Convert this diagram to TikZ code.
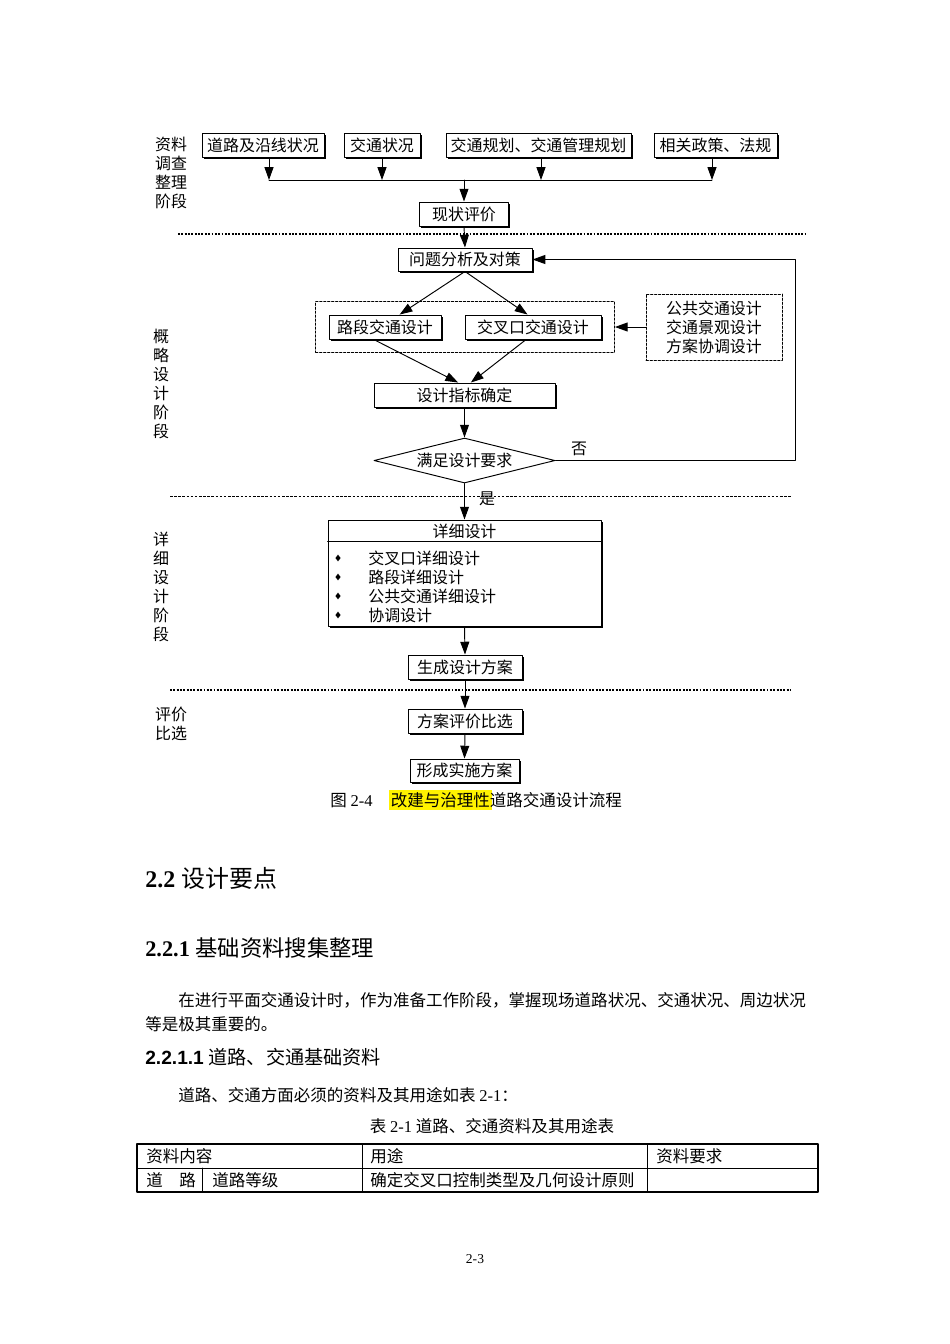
\documentclass[tikz,border=0pt]{standalone}
\usepackage{fontspec}
\setmainfont{Liberation Serif}
\newfontfamily\cjk{Noto Sans CJK SC}
\newfontfamily\arialbf{Liberation Sans}
\usetikzlibrary{arrows.meta,positioning,shapes.geometric,shadows,fit,calc}
\newlength\pxu
\setlength\pxu{0.62661pt}

\begin{document}
\begin{tikzpicture}[x=0.62661pt, y=-0.62661pt, line cap=round, line join=round,
  >={Triangle[length=8pt,width=5.6pt]},
  flowbox/.style={draw, fill=white, line width=0.6pt, inner sep=0pt,
    minimum height=24*\pxu, font=\cjk\fontsize{10}{12}\selectfont,
    drop shadow={shadow xshift=1.1pt, shadow yshift=-1.1pt, fill=black, opacity=1}},
  dashbox/.style={draw, line width=0.5pt, dash pattern=on 1.5pt off 1pt},
  flow/.style={->, line width=0.6pt},
  stage/.style={font=\cjk\fontsize{10}{11.9}\selectfont, align=center, inner sep=0pt},
  label/.style={font=\cjk\fontsize{10}{12}\selectfont, inner sep=0pt},
  sepline/.style={line width=1.2pt, line cap=butt, dash pattern=on 1.2pt off 0.9pt},
  thinsep/.style={line width=0.5pt, line cap=butt, dash pattern=on 1.6pt off 1pt},
  txt/.style={font=\cjk\fontsize{10.35}{12}\selectfont, inner sep=0pt, anchor=west}]

  \fill[white] (0,0) rectangle (950,1344);
  \useasboundingbox (0,0) rectangle (950,1344);

  % stages
  \node[stage] (L1) at (171,172.5) {资料\\调查\\整理\\阶段};
  \node[stage] (L2) at (161,383.5) {概\\略\\设\\计\\阶\\段};
  \node[stage] (L3) at (161,586.5) {详\\细\\设\\计\\阶\\段};
  \node[stage] (L4) at (171,723.5) {评价\\比选};

  \draw[sepline] (178,234) -- (805,234);
  \draw[thinsep] (170,496) -- (791,496);
  \draw[sepline] (170,690) -- (791,690);

  % data collection
  \node[flowbox, minimum width=122*\pxu] (A1) at (263,145.5) {道路及沿线状况};
  \node[flowbox, minimum width=76*\pxu] (A2) at (382,145.5) {交通状况};
  \node[flowbox, minimum width=185*\pxu] (A3) at (538.5,145.5) {交通规划、交通管理规划};
  \node[flowbox, minimum width=123*\pxu] (A4) at (715.5,145.5) {相关政策、法规};
  \coordinate (bus) at (464,180);
  \foreach \n/\dx in {1/6, 2/0, 3/2.5, 4/-3.5} {
    \coordinate (A\n b) at ([xshift=\dx*\pxu]A\n.south);
    \draw[flow] (A\n b) -- (A\n b |- bus);
  }
  \draw[line width=0.6pt] (A1b |- bus) -- (A4b |- bus);

  \node[flowbox, minimum width=89*\pxu] (B) at (464,214) {现状评价};
  \draw[flow] (bus) -- (B.north);

  % outline design
  \node[flowbox, minimum width=134*\pxu, minimum height=23*\pxu] (C) at (465,259.5) {问题分析及对策};
  \draw[flow] (B.south) -- (C.north);

  \node[flowbox, minimum width=112*\pxu] (D1) at (385,327) {路段交通设计};
  \node[flowbox, minimum width=136*\pxu] (D2) at (533,327) {交叉口交通设计};
  \node[dashbox, fit=(D1)(D2), inner sep=13*\pxu] (D) {};
  \draw[flow] (C.south) -- ($(D1.north west)!0.63!(D1.north east)$);
  \draw[flow] (C.south) -- ($(D2.north west)!0.46!(D2.north east)$);

  \node[dashbox, stage, minimum width=136*\pxu, minimum height=66*\pxu] (E) at (714,327)
    {公共交通设计\\交通景观设计\\方案协调设计};
  \draw[flow] (E) -- (D);

  \node[flowbox, minimum width=181*\pxu] (F) at (464.5,395) {设计指标确定};
  \draw[flow] ($(D1.south west)!0.4!(D1.south east)$) -- ([xshift=-4pt]F.north);
  \draw[flow] ($(D2.south west)!0.45!(D2.south east)$) -- ([xshift=4pt]F.north);

  \node[draw, diamond, aspect=4, fill=white, line width=0.6pt, inner sep=0pt,
    minimum width=181*\pxu, minimum height=45*\pxu,
    font=\cjk\fontsize{10}{12}\selectfont] (G) at (464.5,460.5) {满足设计要求};
  \draw[flow] (F.south) -- (G.north);

  \coordinate (R) at (795,300);
  \draw[flow] (G.east) -- (G.east -| R) |- (C.east);
  \node[label] (no) at (579,449) {否};

  % detail design
  \node[flowbox, minimum width=273*\pxu, minimum height=106*\pxu] (H) at (464.5,573) {};
  \draw[line width=0.6pt] ([yshift=-22*\pxu]H.north west) -- ([yshift=-22*\pxu]H.north east);
  \node[label] (Ht) at (464.5,531) {详细设计};
  \foreach \t [count=\i] in {交叉口详细设计, 路段详细设计, 公共交通详细设计, 协调设计} {
    \node[diamond, fill=black, inner sep=0pt, minimum width=3.4pt, minimum height=4.4pt] (Hb\i) at (338,539+19*\i) {};
    \node[label, anchor=west] (Hi\i) at (368,539+19*\i) {\t};
  }
  \draw[flow] (G.south) -- (H.north);
  \node[label] (yes) at (487,499) {是};

  \node[flowbox, minimum width=114*\pxu] (I) at (465,667) {生成设计方案};
  \draw[flow] (H.south) -- (I.north);

  % evaluation
  \node[flowbox, minimum width=114*\pxu] (J) at (465,721) {方案评价比选};
  \draw[flow] (I.south) -- (J.north);
  \node[flowbox, minimum width=109*\pxu, minimum height=23*\pxu] (K) at (464.5,770.5) {形成实施方案};
  \draw[flow] (J.south) -- (K.north);

  \node[txt] (cap) at (330,800) {图 {\rmfamily 2-4}\hspace{10pt}{\setlength\fboxsep{1.4pt}\colorbox{yellow}{改建与治理性}}\hspace{-1.4pt}道路交通设计流程};

  % text
  \node[txt, font=\fontsize{15}{18}\selectfont] (h1) at (145,878) {\textbf{2.2} {\cjk 设计要点}};
  \node[txt, font=\fontsize{14}{17}\selectfont] (h2) at (145,948) {\textbf{2.2.1} {\cjk 基础资料搜集整理}};
  \node[txt] (p1) at (178,1000) {在进行平面交通设计时，作为准备工作阶段，掌握现场道路状况、交通状况、周边状况};
  \node[txt] (p2) at (145,1024) {等是极其重要的。};
  \node[txt, font=\fontsize{12}{14}\selectfont] (h3) at (145,1057) {{\arialbf\bfseries 2.2.1.1} {\cjk 道路、交通基础资料}};
  \node[txt] (p3) at (178,1095) {道路、交通方面必须的资料及其用途如表 {\rmfamily 2-1}：};
  \node[txt, anchor=center] (tcap) at (492,1126) {表 {\rmfamily 2-1} 道路、交通资料及其用途表};

  % table
  \draw[line width=0.6pt] (137,1168) -- (818,1168);
  \draw[line width=0.6pt] (362,1144) -- (362,1192) (647,1144) -- (647,1192) (202,1168) -- (202,1192);
  \draw[line width=1.3pt] (137,1144) rectangle (818,1192);
  \node[txt] (t11) at (146,1156) {资料内容};
  \node[txt] (t12) at (370,1156) {用途};
  \node[txt] (t13) at (656,1156) {资料要求};
  \node[txt] (t21) at (146,1180) {道\hspace{1em}路};
  \node[txt] (t22) at (212,1180) {道路等级};
  \node[txt] (t23) at (370,1180) {确定交叉口控制类型及几何设计原则};

  \node[font=\fontsize{8.5}{10}\selectfont] (pg) at (475,1259) {2-3};

\end{tikzpicture}
\end{document}
